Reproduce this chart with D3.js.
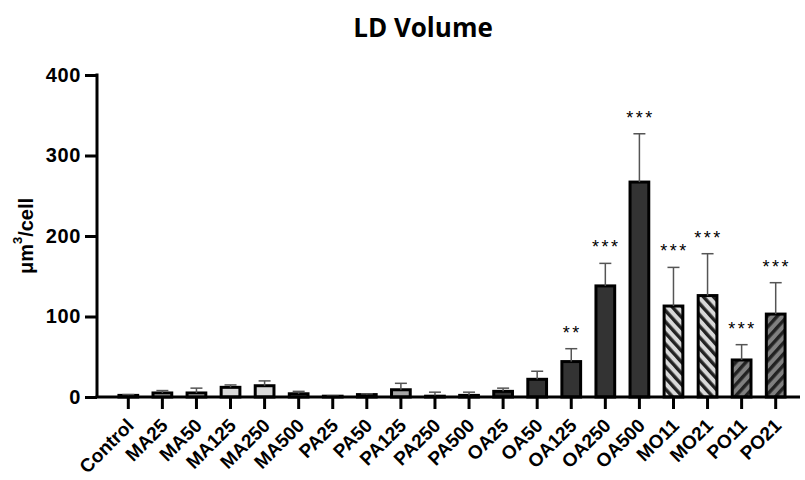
<!DOCTYPE html>
<html>
<head>
<meta charset="utf-8">
<script src="https://cdn.jsdelivr.net/npm/d3@7"></script>
<style>
  body { margin: 0; background: #fff; }
  svg { font-family: "Liberation Sans", Arial, sans-serif; }
</style>
</head>
<body>
<div id="chart"></div>
<script>
// data
const categories = ["Control", "MA25", "MA50", "MA125", "MA250", "MA500", "PA25", "PA50", "PA125", "PA250",
    "PA500", "OA25", "OA50", "OA125", "OA250", "OA500", "MO11", "MO21", "PO11", "PO21"];
const means = [2, 5, 5, 12, 14, 4, 1, 3, 9, 1, 2, 7, 22, 44, 138, 267, 113, 126, 46, 103];
const errors = [1, 3, 6, 3, 6, 3, 0.5, 1, 8, 5, 4, 4, 10, 16, 28, 60, 48, 52, 19, 39];
const stars = ["", "", "", "", "", "", "", "", "", "", "", "", "", "**", "***", "***", "***", "***", "***", "***"];
const groups = ["ctrl", "MA", "MA", "MA", "MA", "MA", "PA", "PA", "PA", "PA", "PA", "OA", "OA", "OA", "OA", "OA", "MO", "MO", "PO", "PO"];
const yTicks = [0, 100, 200, 300, 400];

const fills = { ctrl: "#d9d9d9", MA: "#d9d9d9", PA: "#a6a6a6", OA: "#333333", MO: "url(#hatchMO)", PO: "url(#hatchPO)" };

const W = 805, H = 480;
const svg = d3.select("#chart").append("svg")
    .attr("width", W)
    .attr("height", H);

// hatch patterns
const defs = svg.append("defs");
function hatch(id, bg, dir) {
    const p = defs.append("pattern")
        .attr("id", id)
        .attr("patternUnits", "userSpaceOnUse")
        .attr("width", 7.5).attr("height", 7.5)
        .attr("patternTransform", "rotate(" + dir + ")");
    p.append("rect").attr("width", 7.5).attr("height", 7.5).attr("fill", bg);
    p.append("rect").attr("x", 0).attr("width", 3.4).attr("height", 7.5).attr("fill", "#222");
}
hatch("hatchMO", "#d9d9d9", -42);
hatch("hatchPO", "#808080", 42);

const x = d3.scaleBand()
    .domain(categories)
    .range([103.6, 800.4])
    .padding(0.45);

const y = d3.scaleLinear()
    .domain([0, 400])
    .range([397, 75]);

// bars
svg.selectAll(".bar")
    .data(categories)
    .enter().append("rect")
    .attr("class", "bar")
    .attr("x", d => x(d))
    .attr("y", (d, i) => y(means[i]))
    .attr("width", x.bandwidth())
    .attr("height", (d, i) => y(0) - y(means[i]))
    .attr("fill", (d, i) => fills[groups[i]])
    .attr("stroke", "#000")
    .attr("stroke-width", 3);

// error bars (upper only)
const err = svg.append("g").attr("stroke", "#555").attr("stroke-width", 1.5);
categories.forEach((c, i) => {
    const cx = x(c) + x.bandwidth() / 2;
    const top = y(means[i] + errors[i]);
    err.append("line").attr("x1", cx).attr("x2", cx).attr("y1", y(means[i])).attr("y2", top);
    err.append("line").attr("x1", cx - 6).attr("x2", cx + 6).attr("y1", top).attr("y2", top);
});

// significance stars
svg.selectAll(".star")
    .data(categories)
    .enter().append("text")
    .attr("x", d => x(d) + x.bandwidth() / 2 + 1)
    .attr("y", (d, i) => y(means[i] + errors[i]) - 10)
    .attr("text-anchor", "middle")
    .style("font-size", "18px")
    .style("letter-spacing", "2.5px")
    .text((d, i) => stars[i]);

// y axis
const yAxis = svg.append("g")
    .attr("transform", "translate(97,0)")
    .call(d3.axisLeft(y).tickValues(yTicks).tickSize(12).tickSizeOuter(0).tickPadding(4));
yAxis.select(".domain").attr("stroke-width", 3).attr("d", "M0," + (y(400) - 1.5) + "V" + y(0));
yAxis.selectAll(".tick line").attr("stroke-width", 3);
yAxis.selectAll(".tick text")
    .style("font-size", "20px")
    .style("font-weight", "bold")
    .style("letter-spacing", "0.6px")
    .attr("fill", "#000");

// x axis
const xAxis = svg.append("g")
    .attr("transform", "translate(0," + y(0) + ")")
    .call(d3.axisBottom(x).tickSize(12).tickSizeOuter(0));
xAxis.select(".domain").attr("stroke-width", 3).attr("d", "M95.5,0H800");
xAxis.selectAll(".tick line").attr("stroke-width", 3);
xAxis.selectAll(".tick text")
    .style("font-size", "19px")
    .style("font-weight", "bold")
    .attr("fill", "#000")
    .attr("text-anchor", "end")
    .attr("x", 0)
    .attr("y", 0)
    .attr("dy", "0.35em")
    .attr("transform", "translate(2,25) rotate(-45)");

// title
svg.append("text")
    .attr("x", 423)
    .attr("y", 37)
    .attr("text-anchor", "middle")
    .style("font-family", "'Open Sans', sans-serif")
    .style("font-size", "26px")
    .style("font-weight", "bold")
    .text("LD Volume");

// y axis title
const yt = svg.append("text")
    .attr("transform", "translate(33,236) rotate(-90)")
    .attr("text-anchor", "middle")
    .style("font-size", "20px")
    .style("font-weight", "bold");
yt.append("tspan").text("μm");
yt.append("tspan").attr("dy", "-11").style("font-size", "13px").text("3");
yt.append("tspan").attr("dy", "11").text("/cell");
</script>
</body>
</html>
